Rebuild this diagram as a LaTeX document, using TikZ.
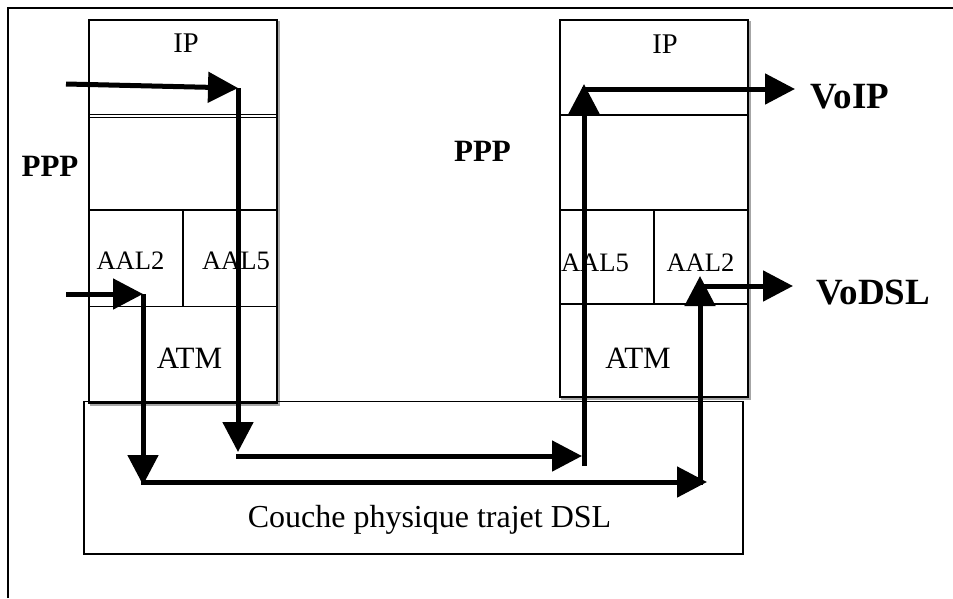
\documentclass[tikz,border=0pt]{standalone}
\usepackage{fontspec}
\setmainfont{Liberation Serif}
\usetikzlibrary{arrows.meta}
\begin{document}
\begin{tikzpicture}[x=1pt,y=-1pt,
  flow/.style={line width=5pt, -{Triangle[length=30pt,width=30pt]}},
  layerbox/.style={line width=1.4pt},
  shadowbox/.style={line width=1.4pt, black!35},
  frameline/.style={line width=2.6pt},
  lbl/.style={anchor=base, inner sep=0pt},
  lblw/.style={anchor=base west, inner sep=0pt},
  fsmall/.style={font=\fontsize{26.6}{30}\selectfont},
  fip/.style={font=\fontsize{28.5}{32}\selectfont},
  fatm/.style={font=\fontsize{31}{35}\selectfont},
  fbase/.style={font=\fontsize{32}{36}\selectfont},
  fppp/.style={font=\fontsize{31}{35}\selectfont\bfseries},
  fvo/.style={font=\fontsize{37}{41}\selectfont\bfseries},
]
\useasboundingbox (0,0) rectangle (953,598);

% outer frame (partial)
\draw[frameline] (8,598) -- (8,8) -- (953,8);

% left stack
\draw[shadowbox] (91,22) rectangle (279,405);
\draw[layerbox, fill=white] (89,20) rectangle (277,403);
\draw[layerbox] (89,114.5) -- (277,114.5);
\draw[layerbox] (89,117.5) -- (277,117.5);
\draw[layerbox] (89,210) -- (277,210);
\draw[layerbox] (89,306.5) -- (277,306.5);
\draw[layerbox] (183,210) -- (183,306.5);

% right stack
\draw[shadowbox] (562,22) rectangle (750,399);
\draw[layerbox, fill=white] (560,20) rectangle (748,397);
\draw[layerbox] (560,115) -- (748,115);
\draw[layerbox] (560,210) -- (748,210);
\draw[layerbox] (560,304) -- (748,304);
\draw[layerbox] (654,210) -- (654,304);

% physical layer box
\draw[layerbox] (84,401.5) rectangle (743,554);

% labels
\node[lbl, fip] (ipL) at (186,52) {IP};
\node[lbl, fip] (ipR) at (665,53) {IP};
\node[lbl, fppp] (pppL) at (50,176) {PPP};
\node[lbl, fppp] (pppR) at (482.5,161) {PPP};
\node[lbl, fsmall] (aal2L) at (130.5,269) {AAL2};
\node[lbl, fsmall] (aal5L) at (236,269) {AAL5};
\node[lbl, fatm] (atmL) at (189.5,368) {ATM};
\node[lbl, fsmall] (aal5R) at (595,271.7) {AAL5};
\node[lbl, fsmall] (aal2R) at (700.5,271.7) {AAL2};
\node[lbl, fatm] (atmR) at (638,368) {ATM};
\node[lblw, fvo] (voip) at (810,108) {VoIP};
\node[lblw, fvo] (vodsl) at (816,304) {VoDSL};
\node[lbl, fbase] (couche) at (429.5,527) {Couche physique trajet DSL};

% coordinates for the flows
\coordinate (a0) at (66,84);
\coordinate (a1) at (238,88);
\coordinate (a2) at (238,452);
\coordinate (a3s) at (236,456);
\coordinate (a3) at (582,456);
\coordinate (a4s) at (584,466);
\coordinate (a4) at (584,84);
\coordinate (a5s) at (582,89);
\coordinate (a5) at (795,89);

\coordinate (b0) at (66,294);
\coordinate (b1) at (143,294);
\coordinate (b2) at (143,485);
\coordinate (b3s) at (140.5,482);
\coordinate (b3) at (707,482);
\coordinate (b4s) at (700,485);
\coordinate (b4) at (700,276);
\coordinate (b5s) at (697.5,286);
\coordinate (b5) at (793,286);

% VoIP path (AAL5)
\draw[flow] (a0) -- (a1);
\draw[flow] (a1) -- (a2);
\draw[flow] (a3s) -- (a3);
\draw[flow] (a4s) -- (a4);
\draw[flow] (a5s) -- (a5);

% VoDSL path (AAL2)
\draw[flow] (b0) -- (b1);
\draw[flow] (b1) -- (b2);
\draw[flow] (b3s) -- (b3);
\draw[flow] (b4s) -- (b4);
\draw[flow] (b5s) -- (b5);
\end{tikzpicture}
\end{document}
